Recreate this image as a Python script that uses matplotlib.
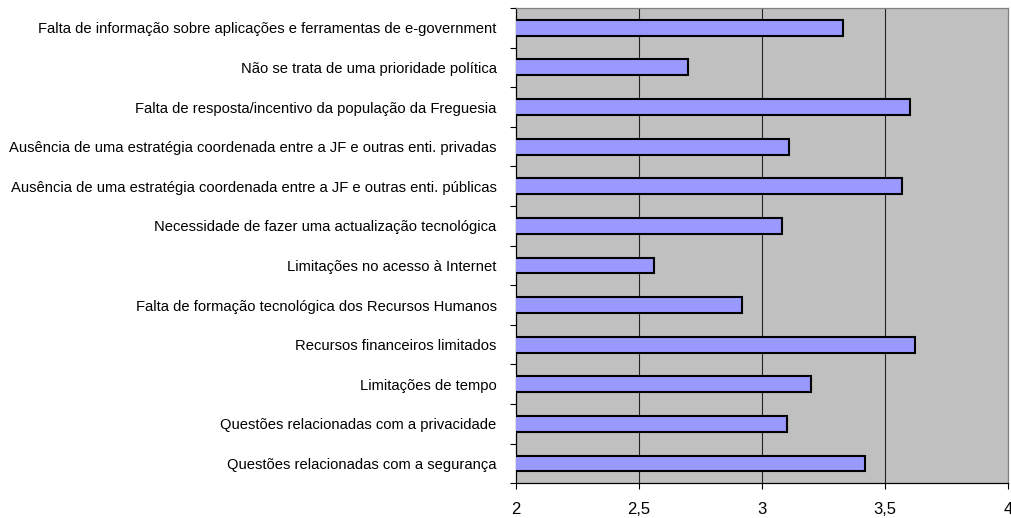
import numpy as np
import matplotlib
matplotlib.use('Agg')
import matplotlib.pyplot as plt

plt.rcParams['font.family'] = ['Liberation Sans', 'DejaVu Sans']

# categorias de baixo para cima
categorias = [
    'Questões relacionadas com a segurança',
    'Questões relacionadas com a privacidade',
    'Limitações de tempo',
    'Recursos financeiros limitados',
    'Falta de formação tecnológica dos Recursos Humanos',
    'Limitações no acesso à Internet',
    'Necessidade de fazer uma actualização tecnológica',
    'Ausência de uma estratégia coordenada entre a JF e outras enti. públicas',
    'Ausência de uma estratégia coordenada entre a JF e outras enti. privadas',
    'Falta de resposta/incentivo da população da Freguesia',
    'Não se trata de uma prioridade política',
    'Falta de informação sobre aplicações e ferramentas de e-government',
]
medias = [3.42, 3.10, 3.20, 3.62, 2.92, 2.56, 3.08, 3.57, 3.11, 3.60, 2.70, 3.33]

xticks = [2, 2.5, 3, 3.5, 4]
xtick_labels = ['2', '2,5', '3', '3,5', '4']

fig = plt.figure(figsize=(10.12, 5.18), dpi=100)
ax = fig.add_axes([0.5099, 0.067, 0.4862, 0.9176])
ax.set_facecolor('#C0C0C0')

y = np.arange(len(categorias))
ax.barh(y, medias, height=0.4, left=0, color='#9999FF',
        edgecolor='black', linewidth=1.5, zorder=3)

ax.set_xlim(2, 4)
ax.set_ylim(-0.5, len(categorias) - 0.5)
ax.set_xticks(xticks)
ax.set_xticklabels(xtick_labels, fontsize=12)
for v in xticks[1:-1]:
    ax.axvline(v, color='#222222', lw=0.8, zorder=1)

# rótulos das categorias ao centro, marcas nas fronteiras
ax.set_yticks(y)
ax.set_yticklabels(categorias, fontsize=10.6)
ax.tick_params(axis='y', length=0, pad=14)
ax.set_yticks(np.arange(-0.5, len(categorias)), minor=True)
ax.tick_params(axis='y', which='minor', length=4, width=0.8, direction='out')
ax.tick_params(axis='x', length=4, width=0.8, direction='out', pad=9.5)

for s in ['left', 'bottom']:
    ax.spines[s].set_color('black')
    ax.spines[s].set_linewidth(0.9)
for s in ['top', 'right']:
    ax.spines[s].set_color('#808080')
    ax.spines[s].set_linewidth(0.9)

fig.savefig('out.png', dpi=100)
